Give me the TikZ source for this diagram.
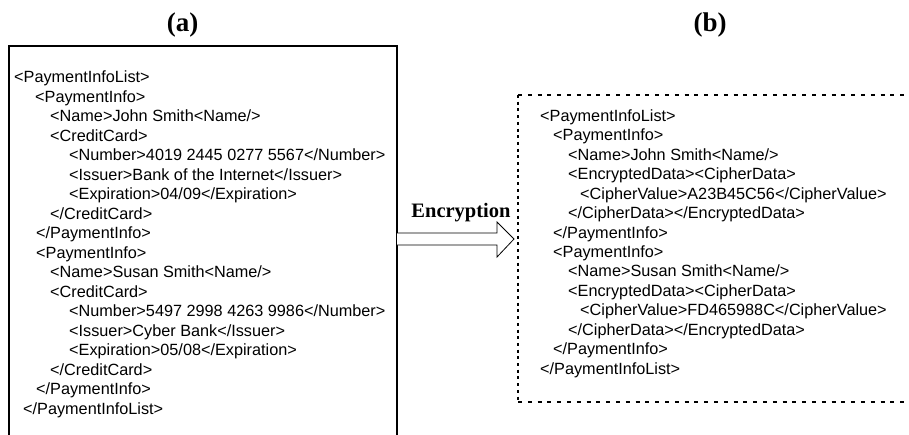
\documentclass[tikz,border=0pt]{standalone}
\usepackage{fontspec}
\setmainfont{Liberation Serif}
\newfontfamily\xmlfont{Liberation Sans}
\begin{document}
\begin{tikzpicture}[x=1pt,y=-1pt,
  xml/.style={anchor=base west,inner sep=0pt,font=\xmlfont\fontsize{16.25}{19.5}\selectfont},
  ttl/.style={anchor=base,inner sep=0pt,font=\bfseries\fontsize{27}{30}\selectfont},
  lbl/.style={anchor=base,inner sep=0pt,font=\bfseries\fontsize{20.5}{24}\selectfont},
  solidbox/.style={line width=2.4pt,draw=black},
  dotbox/.style={line width=2pt,draw=black,dash pattern=on 4pt off 5.8pt},
  dotside/.style={line width=2pt,draw=black,dash pattern=on 3pt off 3.7pt},
  blockarrow/.style={line width=0.8pt,draw=black,fill=white,line join=miter}]
\useasboundingbox (0,0) rectangle (909,434);
\clip (0,0) rectangle (909,434);
% titles
\node[ttl] (ta) at (182.5,31) {(a)};
\node[ttl] (tb) at (710,31) {(b)};
% left box
\coordinate (a1) at (9,46);
\coordinate (a2) at (397,450);
\draw[solidbox] (9,450) -- (a1) -- (397,46) -- (a2);
% right dotted box
\coordinate (b1) at (518,95);
\coordinate (b2) at (920,402);
\draw[dotbox] (b1) -- (920,95);
\draw[dotbox] (518,402) -- (b2);
\draw[dotside] (b1) -- (518,402);
% block arrow
\coordinate (s1) at (397,233);
\coordinate (s2) at (397,245);
\coordinate (tip) at (514,239);
\draw[blockarrow] (s1) -- (497,233) -- (497,222) -- (tip) -- (497,257) -- (497,245) -- (s2);
\node[lbl] (enc) at (461,217) {Encryption};
% left text
\def\lb{82.5}
\def\ls{19.53}
\node[xml] (l1)  at (14,\lb+0*\ls) {<PaymentInfoList>};
\node[xml] (l2)  at (35,\lb+1*\ls) {<PaymentInfo>};
\node[xml] (l3)  at (50,\lb+2*\ls) {<Name>John Smith<Name/>};
\node[xml] (l4)  at (50,\lb+3*\ls) {<CreditCard>};
\node[xml] (l5)  at (69,\lb+4*\ls) {<Number>4019 2445 0277 5567</Number>};
\node[xml] (l6)  at (69,\lb+5*\ls) {<Issuer>Bank of the Internet</Issuer>};
\node[xml] (l7)  at (69,\lb+6*\ls) {<Expiration>04/09</Expiration>};
\node[xml] (l8)  at (50,\lb+7*\ls) {</CreditCard>};
\node[xml] (l9)  at (36,\lb+8*\ls) {</PaymentInfo>};
\node[xml] (l10) at (36,\lb+9*\ls) {<PaymentInfo>};
\node[xml] (l11) at (50,\lb+10*\ls) {<Name>Susan Smith<Name/>};
\node[xml] (l12) at (50,\lb+11*\ls) {<CreditCard>};
\node[xml] (l13) at (69,\lb+12*\ls) {<Number>5497 2998 4263 9986</Number>};
\node[xml] (l14) at (69,\lb+13*\ls) {<Issuer>Cyber Bank</Issuer>};
\node[xml] (l15) at (69,\lb+14*\ls) {<Expiration>05/08</Expiration>};
\node[xml] (l16) at (50,\lb+15*\ls) {</CreditCard>};
\node[xml] (l17) at (36,\lb+16*\ls) {</PaymentInfo>};
\node[xml] (l18) at (23,\lb+17*\ls) {</PaymentInfoList>};
% right text
\def\rb{121.3}
\def\rs{19.46}
\node[xml] (r1)  at (540,\rb+0*\rs) {<PaymentInfoList>};
\node[xml] (r2)  at (553,\rb+1*\rs) {<PaymentInfo>};
\node[xml] (r3)  at (568,\rb+2*\rs) {<Name>John Smith<Name/>};
\node[xml] (r4)  at (568,\rb+3*\rs) {<EncryptedData><CipherData>};
\node[xml] (r5)  at (580,\rb+4*\rs) {<CipherValue>A23B45C56</CipherValue>};
\node[xml] (r6)  at (568,\rb+5*\rs) {</CipherData></EncryptedData>};
\node[xml] (r7)  at (553,\rb+6*\rs) {</PaymentInfo>};
\node[xml] (r8)  at (553,\rb+7*\rs) {<PaymentInfo>};
\node[xml] (r9)  at (568,\rb+8*\rs) {<Name>Susan Smith<Name/>};
\node[xml] (r10) at (568,\rb+9*\rs) {<EncryptedData><CipherData>};
\node[xml] (r11) at (580,\rb+10*\rs) {<CipherValue>FD465988C</CipherValue>};
\node[xml] (r12) at (568,\rb+11*\rs) {</CipherData></EncryptedData>};
\node[xml] (r13) at (553,\rb+12*\rs) {</PaymentInfo>};
\node[xml] (r14) at (540,\rb+13*\rs) {</PaymentInfoList>};
\end{tikzpicture}
\end{document}
